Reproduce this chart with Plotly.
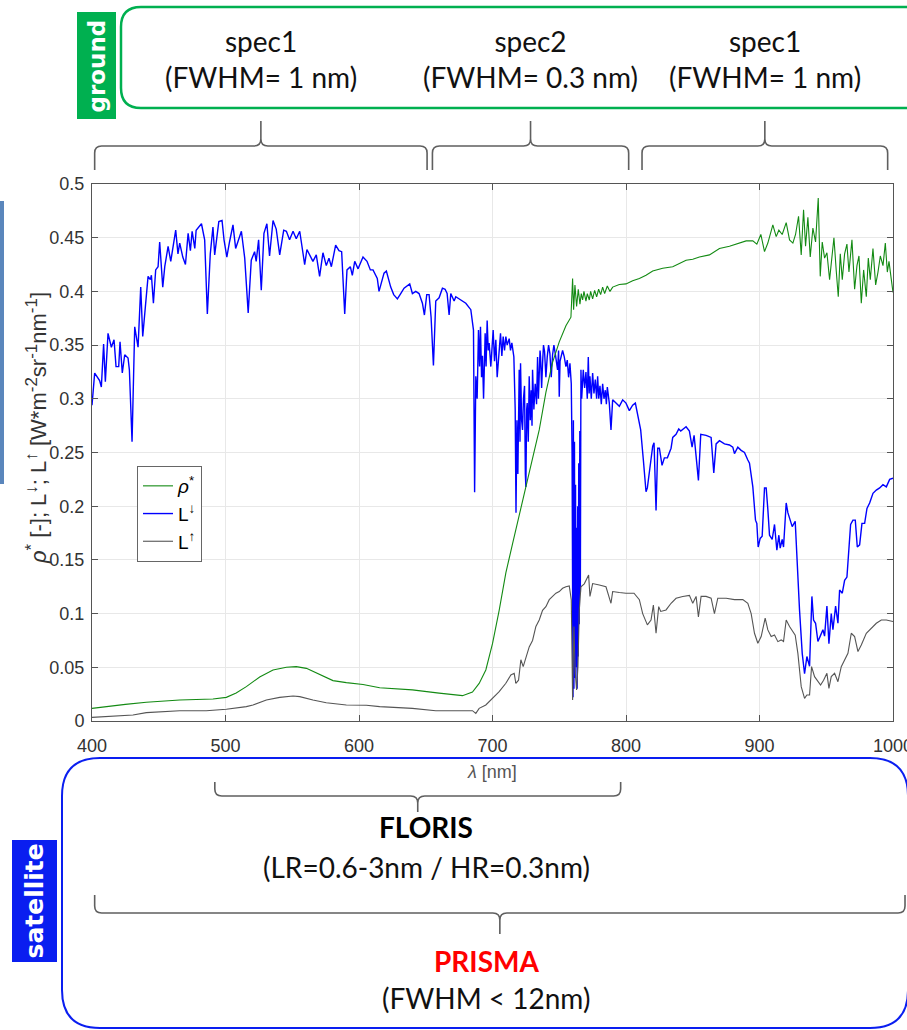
import plotly.graph_objects as go

# ---------------- data ----------------
wl_down = [400,402,405.7,407,408.7,410,412,414.5,416.5,418,420,421,422.7,424.5,427,428,430,432,434.5,436.5,438,440,442,443.7,444.5,446,447.7,449.5,450.7,453,454.5,457,459,462.7,464.4,465.7,468,470,472,473.7,475,477,478,482,484.4,486.4,488.6,490.6,491.9,495,497.4,498.9,501,503,505.6,507.6,511.9,514.4,517,519.3,521.8,523,524.8,526.8,528.8,531,533,535.6,538,540.6,543.6,545.6,548,550.6,553,555.6,557.6,559.3,561,563,565.5,568,570.5,573,575.5,577.5,579.3,582.5,585,587,589.3,591,593.5,595,596.8,599.3,603,606,608.5,610.5,613.7,615,618.75,620.5,623.75,626,628.75,631.25,633.75,638,640,642.5,645,647.5,649,650.75,652.5,654,655.75,657.5,660,662.5,664.5,666,667.5,668.75,671.25,672.5,676,680,683.75,685.75,686.6,687.5,688.5,689.5,690.3,691,691.8,692.5,693.3,694.5,695.2,696,696.8,697.5,698.75,699.5,700.5,701.5,702.5,703.5,704.5,705.3,706,707,708,709,710,711,712.5,713.5,714.5,716,717,717.6,718.3,719,720,720.6,721,721.8,722.5,723.2,724,724.6,725,725.6,726,726.8,727.5,728.3,729,729.6,730,731,732,733,733.75,734.4,735,735.6,736,736.8,737.5,738.2,739,740,741,742,743,744,745,746,747,748,748.75,749.5,750,750.6,751.25,752.5,753.75,755,756,757,758,759,759.6,760,760.3,760.6,761,761.4,761.8,762.2,762.6,763,763.4,763.8,764.2,764.6,765,765.4,765.8,766.25,766.8,768,769,770,771,771.75,772.4,773,774,775,776,777,778,778.75,779.6,780.5,781.5,782.5,783.5,784.5,785.3,786,787.5,788.75,790,792.5,795,797.5,800,802.5,805,807,808.75,811,813,815,816,818.75,820,821,822.5,823.75,825,827,828.75,831,833.75,835,837.5,839.5,841,845,847.5,849.5,851,854.25,856,860,863.75,865.75,867.5,870,873.75,877.5,880,881.25,883.75,886.25,888.75,891.25,892.5,895,897,898,899,900.5,902,903.75,905,906.25,907.5,909.5,911.25,913,914.5,915.5,917,918,920,921.25,923,924.5,926.75,928,930,932,933.75,935.5,937.5,939.25,940.5,942,943.75,945.5,947.5,948.75,950.5,952,953.75,955,957,958.75,960,962,963.75,965.5,967,968.25,970,971.75,973.25,975,976.75,978.75,980.5,982.5,985,987.5,990,992.5,995,997.5,1000]
L_down = [0.294,0.324,0.317,0.311,0.351,0.316,0.361,0.348,0.355,0.330,0.330,0.353,0.324,0.341,0.338,0.327,0.260,0.367,0.348,0.404,0.358,0.386,0.414,0.411,0.415,0.389,0.420,0.423,0.446,0.404,0.423,0.442,0.428,0.457,0.435,0.445,0.432,0.425,0.454,0.438,0.456,0.440,0.457,0.463,0.448,0.379,0.435,0.460,0.434,0.465,0.466,0.448,0.432,0.446,0.462,0.440,0.456,0.431,0.380,0.429,0.437,0.428,0.448,0.401,0.454,0.463,0.433,0.466,0.458,0.434,0.457,0.456,0.448,0.456,0.449,0.456,0.439,0.425,0.439,0.434,0.428,0.434,0.414,0.436,0.424,0.431,0.423,0.443,0.438,0.437,0.379,0.420,0.423,0.415,0.428,0.421,0.432,0.428,0.420,0.420,0.412,0.400,0.417,0.419,0.404,0.397,0.393,0.398,0.403,0.407,0.398,0.400,0.398,0.389,0.378,0.397,0.397,0.376,0.331,0.391,0.394,0.403,0.402,0.398,0.378,0.398,0.391,0.395,0.392,0.389,0.383,0.364,0.213,0.321,0.300,0.364,0.330,0.367,0.320,0.340,0.300,0.361,0.330,0.373,0.345,0.352,0.330,0.350,0.364,0.335,0.355,0.320,0.334,0.350,0.361,0.340,0.358,0.345,0.358,0.350,0.356,0.345,0.352,0.339,0.290,0.194,0.280,0.230,0.327,0.260,0.333,0.280,0.271,0.300,0.312,0.230,0.218,0.290,0.296,0.260,0.321,0.280,0.308,0.275,0.327,0.290,0.314,0.295,0.339,0.300,0.324,0.345,0.339,0.310,0.333,0.350,0.344,0.320,0.339,0.350,0.342,0.320,0.341,0.350,0.342,0.335,0.327,0.345,0.302,0.335,0.339,0.345,0.339,0.330,0.336,0.320,0.333,0.314,0.250,0.050,0.022,0.280,0.030,0.260,0.040,0.220,0.050,0.180,0.030,0.200,0.060,0.240,0.090,0.270,0.120,0.327,0.300,0.327,0.310,0.325,0.300,0.339,0.305,0.321,0.300,0.324,0.305,0.318,0.300,0.321,0.300,0.312,0.295,0.314,0.300,0.308,0.295,0.311,0.296,0.271,0.299,0.296,0.293,0.299,0.296,0.289,0.294,0.296,0.286,0.271,0.243,0.2135,0.217,0.242,0.256,0.259,0.196,0.254,0.254,0.238,0.245,0.245,0.254,0.264,0.267,0.272,0.270,0.274,0.270,0.255,0.266,0.224,0.267,0.266,0.264,0.231,0.258,0.261,0.258,0.257,0.255,0.249,0.255,0.252,0.250,0.243,0.240,0.218,0.187,0.184,0.162,0.170,0.172,0.217,0.217,0.197,0.173,0.169,0.183,0.159,0.173,0.161,0.169,0.162,0.203,0.194,0.187,0.181,0.186,0.150,0.103,0.063,0.044,0.060,0.051,0.116,0.094,0.091,0.074,0.079,0.085,0.079,0.107,0.072,0.100,0.085,0.107,0.091,0.122,0.119,0.131,0.134,0.159,0.183,0.187,0.187,0.162,0.164,0.184,0.184,0.198,0.203,0.212,0.215,0.217,0.220,0.218,0.225,0.226]

wl_rho = [400,407,415.7,425,440.7,465.7,490.6,500.6,508,515.6,525.6,535.6,545.6,553,560.6,570.5,580.5,590.5,603,615.5,640,660,677.5,685,690,695,700,705,710,715,720,725,730,735,740,745,750,755,758.75,760,760.75,761.75,763,764.25,765.5,766.5,767.5,768.5,770,771,772.5,773.5,775,776.5,778,779.5,781,782.5,784,786,788,790,795,800,805,810,815,820,827.5,835,840,845,850,855,862.5,870,877.5,885,890,895,898,901,903.75,906.25,910,912.5,914.5,917,920,922.5,925,927,929.25,931.25,933,934.5,936.25,938,940,942,944,945.5,947,948.75,950.5,952.5,954.25,955.75,957.5,959,960.5,962,963.75,965.5,967,969.25,971.25,973,974.5,976.25,978,980,981.5,983,985,987,988.75,990.5,992.5,994.25,995.75,997,998.75,1000]
rho = [0.0118,0.013,0.014,0.0155,0.0174,0.0196,0.0205,0.022,0.026,0.032,0.041,0.0475,0.050,0.0506,0.049,0.043,0.0376,0.0357,0.034,0.031,0.029,0.026,0.0236,0.027,0.035,0.0475,0.072,0.103,0.138,0.165,0.192,0.218,0.245,0.271,0.306,0.334,0.353,0.368,0.376,0.412,0.383,0.406,0.386,0.402,0.388,0.398,0.392,0.400,0.391,0.398,0.392,0.400,0.393,0.401,0.395,0.402,0.397,0.404,0.398,0.405,0.400,0.404,0.4065,0.407,0.410,0.412,0.415,0.419,0.4215,0.423,0.426,0.429,0.430,0.432,0.434,0.440,0.442,0.445,0.447,0.447,0.444,0.453,0.437,0.445,0.462,0.451,0.457,0.453,0.464,0.448,0.445,0.453,0.470,0.434,0.476,0.442,0.469,0.432,0.459,0.446,0.487,0.414,0.446,0.431,0.436,0.411,0.430,0.450,0.419,0.395,0.435,0.411,0.435,0.444,0.418,0.448,0.402,0.424,0.433,0.389,0.420,0.395,0.431,0.411,0.440,0.406,0.418,0.433,0.424,0.445,0.418,0.428,0.411,0.399]

wl_up = [400,415.7,430.7,440.7,465.7,485.6,500.6,515.6,520.6,530.6,540.6,550.6,555.6,565.5,575.5,590.5,605.5,615.5,640,657.5,685,687.5,690,695,700,705,710,713.75,716.25,717.5,719.5,721.25,723,725,727.5,730,732.5,735,737.5,740,742.5,745,747.5,750,752.5,755,757.5,759,760,761,762,763,764,765,766.25,768.75,772,773,775,780,785,788.75,790,795,800,806,810,812.5,816,818.75,820.5,822.5,824.5,826,830,833.75,837.5,842.5,847.5,850,852.5,854.25,856.25,860,863.75,866.25,868.75,875,881.25,887.5,891.25,893.75,896.25,898.75,901.25,904.25,906.25,908.75,911.25,913.75,916.25,918,920,922.5,925,926.75,928.75,931.25,933.75,935.5,937.5,939,941.25,943.75,945.75,948,950.5,952,953.75,956.25,958.75,961.25,963.75,966.25,968.75,971.25,973.75,976.25,980,983.75,987.5,991.25,995,1000]
L_up = [0.0034,0.0047,0.0056,0.0078,0.0096,0.0096,0.0109,0.0134,0.0149,0.0196,0.022,0.0233,0.0227,0.0196,0.017,0.0149,0.0146,0.0134,0.0118,0.0096,0.0096,0.0071,0.0118,0.0149,0.0211,0.0273,0.0351,0.0429,0.0444,0.035,0.038,0.057,0.0506,0.060,0.069,0.075,0.088,0.094,0.103,0.1065,0.113,0.116,0.119,0.1205,0.1236,0.125,0.1258,0.113,0.0196,0.088,0.0444,0.029,0.0506,0.103,0.125,0.1277,0.136,0.116,0.128,0.1267,0.125,0.1096,0.1205,0.1196,0.119,0.119,0.113,0.100,0.0895,0.094,0.108,0.0817,0.1065,0.102,0.1034,0.1096,0.1143,0.116,0.117,0.1096,0.116,0.097,0.116,0.116,0.1143,0.100,0.1143,0.1143,0.113,0.113,0.1096,0.100,0.0817,0.0724,0.0786,0.0957,0.0848,0.0786,0.080,0.0739,0.0755,0.074,0.094,0.088,0.0832,0.080,0.063,0.032,0.0211,0.0242,0.0242,0.0506,0.0413,0.0366,0.0335,0.038,0.0444,0.0304,0.0413,0.0444,0.0366,0.0506,0.057,0.063,0.0817,0.0786,0.0646,0.0708,0.0817,0.0863,0.091,0.094,0.094,0.0926]

x_ticks = [400, 500, 600, 700, 800, 900, 1000]
y_ticks = [0, 0.05, 0.1, 0.15, 0.2, 0.25, 0.3, 0.35, 0.4, 0.45, 0.5]
y_tick_text = ["0", "0.05", "0.1", "0.15", "0.2", "0.25", "0.3", "0.35", "0.4", "0.45", "0.5"]

ground_labels = ["spec1<br>(FWHM= 1 nm)", "spec2<br>(FWHM= 0.3 nm)", "spec1<br>(FWHM= 1 nm)"]
ground_ranges = [(402, 651), (655, 802), (812, 996)]
floris_range = (492, 796)
prisma_range = (402, 1009)

# ---------------- geometry helpers ----------------
W, H = 907, 1030
L_, R_, T_, B_ = 92, 14, 184, 309
PW, PH = W - L_ - R_, H - T_ - B_


def px(x):
    return (x - L_) / PW


def py(y):
    return (H - B_ - y) / PH


def wl2px(w):
    return L_ + (w - 400) / 600 * PW


def path_str(pts):
    out = []
    for cmd, coords in pts:
        s = cmd
        for (x, y) in coords:
            s += f"{px(x):.5f},{py(y):.5f} "
        out.append(s.strip())
    return " ".join(out)


def brace(x1, x2, yl, yt, ye, r=7):
    xt = (x1 + x2) / 2
    s = 1 if ye > yl else -1
    pts = [("M", [(x1, ye)]), ("L", [(x1, yl + s * r)]), ("Q", [(x1, yl), (x1 + r, yl)]),
           ("L", [(xt - r, yl)]), ("Q", [(xt, yl), (xt, yl - s * r)]), ("L", [(xt, yt)]),
           ("L", [(xt, yl - s * r)]), ("Q", [(xt, yl), (xt + r, yl)]),
           ("L", [(x2 - r, yl)]), ("Q", [(x2, yl), (x2, yl + s * r)]), ("L", [(x2, ye)])]
    return path_str(pts)


def rrect(x0, y0, x1, y1, r):
    pts = [("M", [(x0 + r, y0)]), ("L", [(x1 - r, y0)]), ("Q", [(x1, y0), (x1, y0 + r)]),
           ("L", [(x1, y1 - r)]), ("Q", [(x1, y1), (x1 - r, y1)]), ("L", [(x0 + r, y1)]),
           ("Q", [(x0, y1), (x0, y1 - r)]), ("L", [(x0, y0 + r)]), ("Q", [(x0, y0), (x0 + r, y0)])]
    return path_str(pts) + " Z"


def sup(t, size):
    return f"<sup><span style='font-size:{size}px'>{t}</span></sup>"


# ---------------- figure ----------------
fig = go.Figure()
fig.add_trace(go.Scatter(x=wl_down, y=L_down, mode="lines", name="L<sup>↓</sup>", legendrank=2,
                         line=dict(color="#0000ff", width=1.4)))
fig.add_trace(go.Scatter(x=wl_rho, y=rho, mode="lines", name="<i>ρ</i><sup>*</sup>", legendrank=1,
                         line=dict(color="#138a13", width=1.1)))
fig.add_trace(go.Scatter(x=wl_up, y=L_up, mode="lines", name="L<sup>↑</sup>", legendrank=3,
                         line=dict(color="#555555", width=1.1)))

axis_col = "#555555"
tick_font = dict(family="Liberation Sans, Arial, sans-serif", size=18, color="#333333")
fig.update_xaxes(range=[400, 1000], tickvals=x_ticks, ticks="inside", ticklen=6, tickcolor=axis_col,
                 showline=True, linecolor=axis_col, linewidth=1, mirror="ticks",
                 showgrid=True, gridcolor="#e8e8e8", zeroline=False, tickfont=tick_font,
                 ticklabelstandoff=8, ticklabeloverflow="allow", automargin=False)
fig.update_yaxes(range=[0, 0.5], tickvals=y_ticks, ticktext=y_tick_text, ticks="inside", ticklen=6,
                 tickcolor=axis_col, showline=True, linecolor=axis_col, linewidth=1, mirror="ticks",
                 showgrid=True, gridcolor="#e8e8e8", zeroline=False, tickfont=tick_font,
                 ticklabelstandoff=3, ticklabeloverflow="allow", automargin=False)

shapes = []
# left blue strip (cropped image fragment)
shapes.append(dict(type="rect", xref="paper", yref="paper", x0=px(0), x1=px(4), y0=py(484), y1=py(201),
                   fillcolor="#5a86bc", line=dict(width=0), layer="above"))
# ground box
shapes.append(dict(type="path", xref="paper", yref="paper", path=rrect(121, 7, 945, 108, 20),
                   line=dict(color="#00b050", width=2.5)))
shapes.append(dict(type="rect", xref="paper", yref="paper", x0=px(77), x1=px(116), y0=py(119), y1=py(12),
                   fillcolor="#00b050", line=dict(width=0)))
# satellite box
shapes.append(dict(type="path", xref="paper", yref="paper", path=rrect(62, 758, 908, 1028, 38),
                   line=dict(color="#0a1ef0", width=2)))
shapes.append(dict(type="rect", xref="paper", yref="paper", x0=px(12), x1=px(57), y0=py(962), y1=py(840),
                   fillcolor="#0a1ef0", line=dict(width=0)))
brace_col = dict(color="#5f5f5f", width=1.6)
for (a, b) in ground_ranges:
    shapes.append(dict(type="path", xref="paper", yref="paper",
                       path=brace(wl2px(a), wl2px(b), 146, 121, 170), line=brace_col))
shapes.append(dict(type="path", xref="paper", yref="paper",
                   path=brace(wl2px(floris_range[0]), wl2px(floris_range[1]), 796, 812, 782), line=brace_col))
shapes.append(dict(type="path", xref="paper", yref="paper",
                   path=brace(wl2px(prisma_range[0]), wl2px(prisma_range[1]), 913, 934, 895), line=brace_col))

ann = []
txt_font = "Lato, Carlito, sans-serif"
for (a, b), lab in zip(ground_ranges, ground_labels):
    ann.append(dict(xref="paper", yref="paper", x=px(wl2px((a + b) / 2)), y=py(59), text=lab,
                    showarrow=False, xanchor="center", yanchor="middle",
                    font=dict(family=txt_font, size=28, color="#111111")))
ann.append(dict(xref="paper", yref="paper", x=px(96.5), y=py(66), text="<b>ground</b>", textangle=-90,
                showarrow=False, xanchor="center", yanchor="middle",
                font=dict(family="DejaVu Sans, sans-serif", size=23, color="white")))
ann.append(dict(xref="paper", yref="paper", x=px(34.5), y=py(901), text="<b>satellite</b>", textangle=-90,
                showarrow=False, xanchor="center", yanchor="middle",
                font=dict(family="DejaVu Sans, sans-serif", size=25, color="white")))
ann.append(dict(xref="paper", yref="paper", x=px(426), y=py(827),
                text="<b>FLORIS</b>", showarrow=False, xanchor="center", yanchor="middle",
                font=dict(family=txt_font, size=28, color="black")))
ann.append(dict(xref="paper", yref="paper", x=px(426), y=py(867), text="(LR=0.6-3nm / HR=0.3nm)",
                showarrow=False, xanchor="center", yanchor="middle",
                font=dict(family=txt_font, size=28, color="#111111")))
ann.append(dict(xref="paper", yref="paper", x=px(486), y=py(961), text="<b>PRISMA</b>",
                showarrow=False, xanchor="center", yanchor="middle",
                font=dict(family=txt_font, size=28, color="#ff0000")))
ann.append(dict(xref="paper", yref="paper", x=px(486), y=py(998), text="(FWHM &lt; 12nm)",
                showarrow=False, xanchor="center", yanchor="middle",
                font=dict(family=txt_font, size=28, color="#111111")))
# axis titles
ann.append(dict(xref="paper", yref="paper", x=px(492), y=py(772), text="<i>λ</i> [nm]",
                showarrow=False, xanchor="center", yanchor="middle",
                font=dict(family="Liberation Sans, Arial, sans-serif", size=18, color="#555555")))
ylab = ("<i>ρ</i>" + sup("*", 17) + " [-]; L" + sup("↓", 17) + "; L" + sup("↑", 17)
        + " [W*m" + sup("-2", 17) + "sr" + sup("-1", 17) + "nm" + sup("-1", 17) + "]")
ann.append(dict(xref="paper", yref="paper", x=px(36), y=py(428), text=ylab,
                textangle=-90, showarrow=False, xanchor="center", yanchor="middle",
                font=dict(family="Liberation Sans, Arial, sans-serif", size=22, color="#333333")))

fig.update_layout(
    width=W, height=H, margin=dict(l=L_, r=R_, t=T_, b=B_, pad=0, autoexpand=False),
    paper_bgcolor="white", plot_bgcolor="white",
    shapes=shapes, annotations=ann,
    showlegend=True,
    legend=dict(x=px(137), y=py(466), xanchor="left", yanchor="top", bgcolor="white",
                bordercolor="#666666", borderwidth=1,
                font=dict(family="Liberation Sans, Arial, sans-serif", size=19, color="black"),
                tracegroupgap=0, itemwidth=30),
)

fig.write_html("out.html", config={"displayModeBar": False},
               post_script="document.body.style.margin='0px';")
